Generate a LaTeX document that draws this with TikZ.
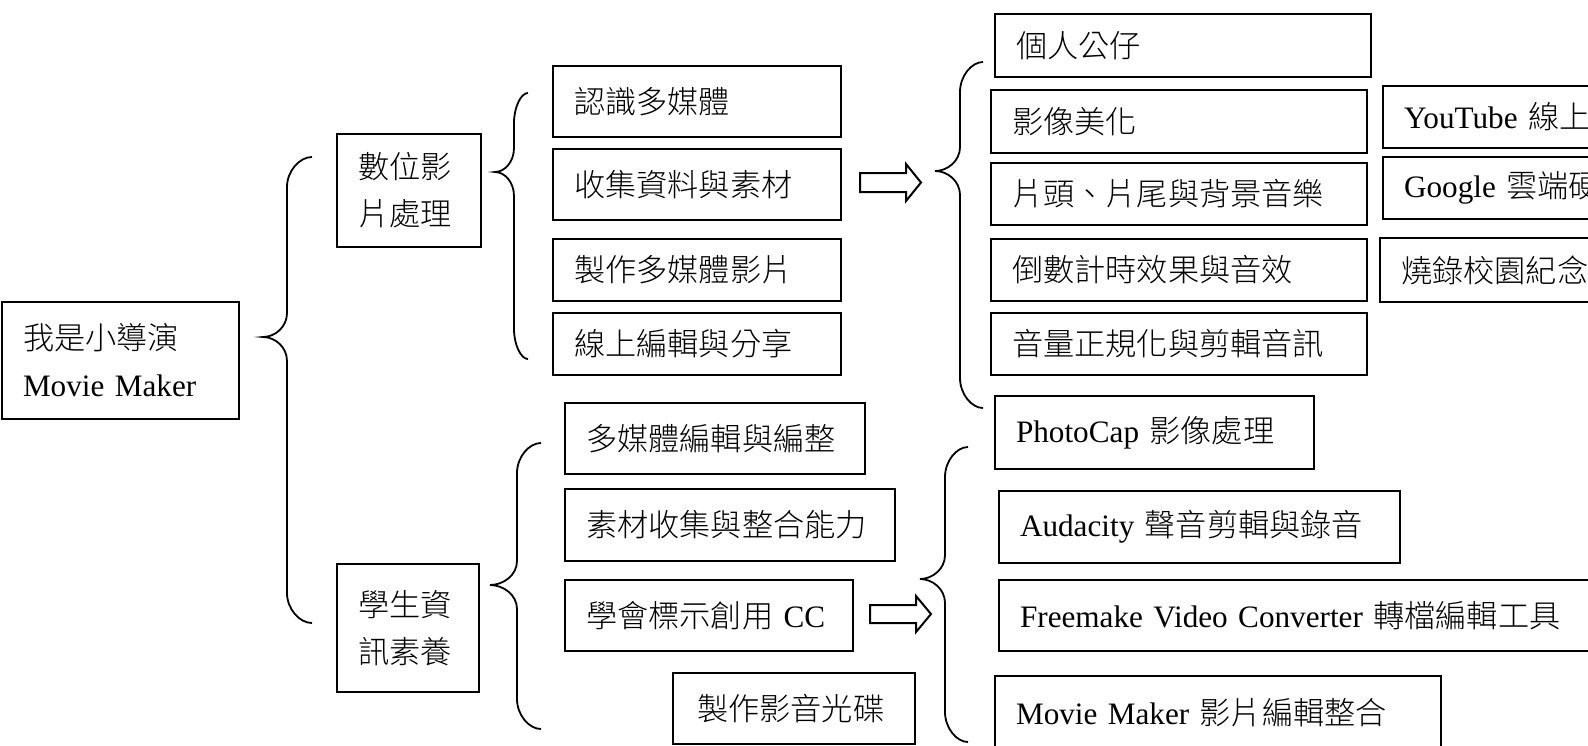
\documentclass[tikz,border=0pt]{standalone}
\usepackage{fontspec}
\setmainfont{Liberation Serif}
\newfontfamily\cjk{Noto Sans CJK TC Light}
\newfontfamily\lat{Liberation Serif}
% curly brace: tip x, tip y, line x, end x, top y, bottom y
\newcommand\grpbrace[6]{%
  \draw[brc] (#4,#5) .. controls ({(#3+#4)/2},#5) and (#3,{#5+14}) .. (#3,{#5+30})
    -- (#3,{#2-24}) .. controls (#3,{#2-10}) and ({(#1+#3)/2},#2) .. (#1,#2)
    .. controls ({(#1+#3)/2},#2) and (#3,{#2+10}) .. (#3,{#2+24})
    -- (#3,{#6-30}) .. controls (#3,{#6-14}) and ({(#3+#4)/2},#6) .. (#4,#6);}
\begin{document}
\begin{tikzpicture}[x=0.5pt,y=-0.5pt,
    box/.style={draw, line width=1pt, anchor=north west, inner xsep=10.5pt, inner ysep=0pt,
      align=left, font=\cjk\fontsize{15.6pt}{23.5pt}\selectfont},
    brc/.style={line width=0.9pt},
    hollow/.style={line width=1pt}]
  \useasboundingbox (0,0) rectangle (1588,745);
  \clip (0,0) rectangle (1588,745);

  % root and the two branches
  \node[box, text width=97.5pt, minimum height=58.5pt] (root) at (1,301) {我是小導演\\{\lat Movie Maker}};
  \node[box, text width=51pt, minimum height=56.5pt] (video) at (336,133) {數位影\\片處理};
  \node[box, text width=50pt, minimum height=64pt] (skill) at (336,563) {學生資\\訊素養};

  % video branch
  \node[box, text width=123pt, minimum height=35.5pt] (v1) at (552,65) {認識多媒體};
  \node[box, text width=123pt, minimum height=35.5pt] (v2) at (552,148) {收集資料與素材};
  \node[box, text width=123pt, minimum height=31pt] (v3) at (552,238) {製作多媒體影片};
  \node[box, text width=123pt, minimum height=31pt] (v4) at (552,312) {線上編輯與分享};

  \node[box, text width=167pt, minimum height=31.5pt] (w0) at (994,13) {個人公仔};
  \node[box, text width=167pt, minimum height=31.5pt] (w1) at (990,89) {影像美化};
  \node[box, text width=167pt, minimum height=31pt] (w2) at (990,162) {片頭、片尾與背景音樂};
  \node[box, text width=167pt, minimum height=31pt] (w3) at (990,238) {倒數計時效果與音效};
  \node[box, text width=167pt, minimum height=31pt] (w4) at (990,312) {音量正規化與剪輯音訊};

  \node[box, text width=129pt, minimum height=31pt] (o1) at (1382,85) {{\lat YouTube }線上};
  \node[box, text width=129pt, minimum height=31pt] (o2) at (1382,156) {{\lat Google }雲端硬};
  \node[box, text width=129pt, minimum height=32pt] (o3) at (1379,237) {燒錄校園紀念};

  % skill branch
  \node[box, text width=129pt, minimum height=35.5pt] (s1) at (564,402) {多媒體編輯與編整};
  \node[box, text width=144pt, minimum height=36pt] (s2) at (564,488) {素材收集與整合能力};
  \node[box, text width=123pt, minimum height=35.5pt] (s3) at (564,579) {學會標示創用{\lat\ CC}};
  \node[box, text width=97pt, minimum height=35.5pt, inner xsep=12pt] (s4) at (672,672) {製作影音光碟};

  \node[box, text width=138.5pt, minimum height=36.5pt] (t1) at (994,395) {{\lat PhotoCap }影像處理};
  \node[box, text width=179.5pt, minimum height=36pt] (t2) at (998,490) {{\lat Audacity }聲音剪輯與錄音};
  \node[box, text width=329pt, minimum height=35.5pt] (t3) at (998,579) {{\lat Freemake Video Converter }轉檔編輯工具};
  \node[box, text width=202pt, minimum height=37pt] (t4) at (994,675) {{\lat Movie Maker }影片編輯整合};

  % braces
  \grpbrace{263}{337}{287}{312}{157}{623}
  \grpbrace{495}{172}{514}{528}{93}{359}
  \grpbrace{935}{171}{960}{983}{62}{408}
  \grpbrace{490}{585}{517}{541}{443}{729}
  \grpbrace{920}{579}{945}{968}{447}{742}

  % hollow arrows
  \draw[hollow] (860,173) -- (906,173) -- (906,164) -- (921,182.5) -- (906,201) -- (906,192) -- (860,192) -- cycle;
  \draw[hollow] (870,605) -- (916,605) -- (916,596) -- (931,614) -- (916,632) -- (916,623) -- (870,623) -- cycle;
\end{tikzpicture}
\end{document}
